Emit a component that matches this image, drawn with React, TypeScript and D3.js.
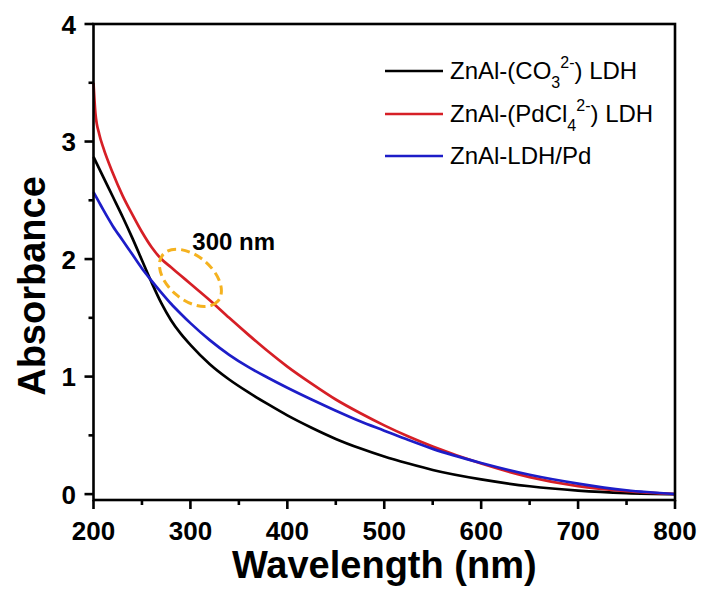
import React from "react";
import * as d3 from "d3";

const wavelengths = [200, 202, 206, 210, 220, 230, 240, 250, 260, 270, 280, 290, 300, 320, 340, 360, 380, 400, 425, 450, 475, 500, 525, 550, 600, 650, 700, 750, 800];
const carbonate = [2.87, 2.836, 2.768, 2.7, 2.53, 2.36, 2.18, 1.99, 1.8, 1.625, 1.48, 1.365, 1.27, 1.105, 0.975, 0.865, 0.765, 0.67, 0.565, 0.47, 0.39, 0.32, 0.26, 0.205, 0.125, 0.067, 0.03, 0.009, 0.0];
const pdcl4 = [3.5, 3.24, 3.06, 2.95, 2.73, 2.54, 2.38, 2.23, 2.1, 2.0, 1.93, 1.86, 1.79, 1.65, 1.5, 1.355, 1.215, 1.085, 0.94, 0.805, 0.69, 0.585, 0.49, 0.405, 0.26, 0.145, 0.068, 0.025, 0.0];
const ldhPd = [2.57, 2.54, 2.48, 2.42, 2.28, 2.16, 2.04, 1.92, 1.815, 1.715, 1.62, 1.535, 1.455, 1.31, 1.185, 1.08, 0.99, 0.905, 0.805, 0.71, 0.62, 0.54, 0.46, 0.385, 0.265, 0.165, 0.09, 0.033, 0.0];

const xTicks = [200, 300, 400, 500, 600, 700, 800];
const xMinor = [250, 350, 450, 550, 650, 750];
const yTicks = [0, 1, 2, 3, 4];
const yMinor = [0.5, 1.5, 2.5, 3.5];

const seriesColors = ["#000000", "#d61f26", "#1d1dc8"];

export default function App() {
  const left = 93.5, right = 675, top = 24, bottom = 500;
  const x = d3.scaleLinear().domain([200, 800]).range([left, right]);
  const y = d3.scaleLinear().domain([-0.05, 4]).range([bottom, top]);
  const line = d3
    .line<number>()
    .x((_, i) => x(wavelengths[i]))
    .y((d) => y(d))
    .curve(d3.curveMonotoneX);

  const series = [carbonate, pdcl4, ldhPd];
  const font = "'Liberation Sans', Arial, sans-serif";
  const legendY = [71, 114, 156];

  return (
    <svg width={703} height={592} style={{ position: "absolute", left: 0, top: 0, background: "#fff" }} fontFamily={font}>
      <rect x={0} y={0} width={703} height={592} fill="#fff" />
      {series.map((s, i) => (
        <path key={i} d={line(s) || ""} fill="none" stroke={seriesColors[i]} strokeWidth={2.7} />
      ))}
      {/* frame */}
      <rect x={left} y={top} width={right - left} height={bottom - top} fill="none" stroke="#000" strokeWidth={2.6} />
      {xTicks.map((t) => (
        <g key={t}>
          <line x1={x(t)} x2={x(t)} y1={bottom} y2={bottom + 9} stroke="#000" strokeWidth={2.6} />
          <text x={x(t)} y={540} textAnchor="middle" fontSize={26} fontWeight="bold">{t}</text>
        </g>
      ))}
      {xMinor.map((t) => (
        <line key={t} x1={x(t)} x2={x(t)} y1={bottom} y2={bottom + 5} stroke="#000" strokeWidth={2.6} />
      ))}
      {yTicks.map((t) => (
        <g key={t}>
          <line x1={left - 9} x2={left} y1={y(t)} y2={y(t)} stroke="#000" strokeWidth={2.6} />
          <text x={76} y={y(t) + 9.5} textAnchor="end" fontSize={26} fontWeight="bold">{t}</text>
        </g>
      ))}
      {yMinor.map((t) => (
        <line key={t} x1={left - 5} x2={left} y1={y(t)} y2={y(t)} stroke="#000" strokeWidth={2.6} />
      ))}
      <text x={(left + right) / 2} y={578} textAnchor="middle" fontSize={38} fontWeight="bold">Wavelength (nm)</text>
      <text transform={`translate(45, 286) rotate(-90)`} textAnchor="middle" fontSize={38} fontWeight="bold">Absorbance</text>

      {/* legend */}
      {["c", "p", "l"].map((k, i) => (
        <line key={k} x1={385} x2={443} y1={legendY[i]} y2={legendY[i]} stroke={seriesColors[i]} strokeWidth={2.7} />
      ))}
      <text x={450} y={legendY[0] + 8} fontSize={24}>
        ZnAl-(CO<tspan dy={9} fontSize={16}>3</tspan><tspan dy={-20} fontSize={16}>2-</tspan><tspan dy={11}>) LDH</tspan>
      </text>
      <text x={450} y={legendY[1] + 8} fontSize={24}>
        ZnAl-(PdCl<tspan dy={9} fontSize={16}>4</tspan><tspan dy={-20} fontSize={16}>2-</tspan><tspan dy={11}>) LDH</tspan>
      </text>
      <text x={450} y={legendY[2] + 8} fontSize={24}>ZnAl-LDH/Pd</text>

      {/* annotation */}
      <ellipse
        cx={x(300)}
        cy={y(1.84)}
        rx={36}
        ry={22}
        transform={`rotate(40, ${x(300)}, ${y(1.84)})`}
        fill="none"
        stroke="#f5b21f"
        strokeWidth={3}
        strokeDasharray="9 5"
      />
      <text x={x(302)} y={y(2.08)} fontSize={24} fontWeight="bold">300 nm</text>
    </svg>
  );
}
